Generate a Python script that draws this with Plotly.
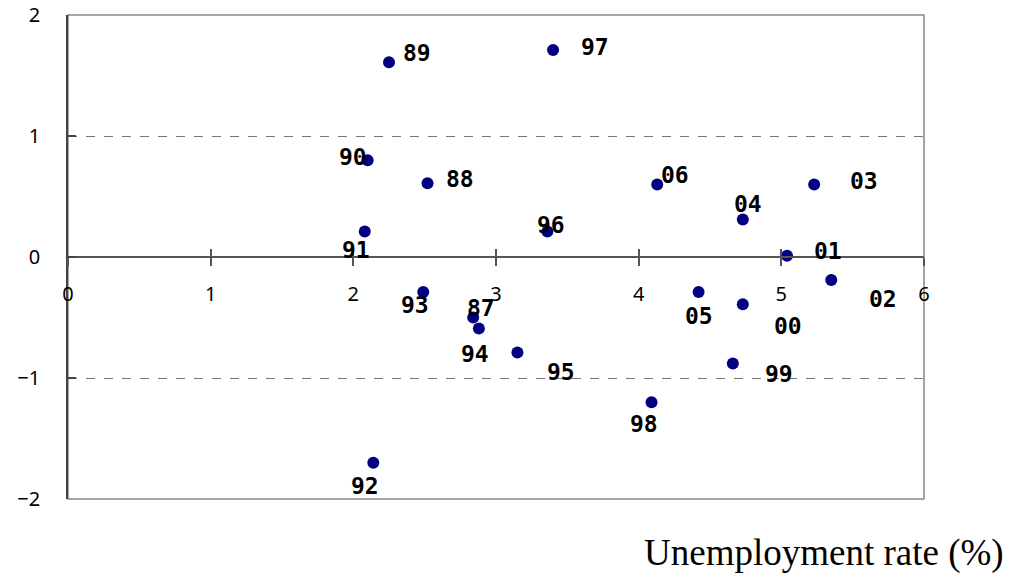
import plotly.graph_objects as go

# Data
years = ["87", "88", "89", "90", "91", "92", "93", "94", "95", "96", "97",
         "98", "99", "00", "01", "02", "03", "04", "05", "06"]
unemployment = [2.84, 2.52, 2.25, 2.10, 2.08, 2.14, 2.49, 2.88, 3.15, 3.36, 3.40,
                4.09, 4.66, 4.73, 5.04, 5.35, 5.23, 4.73, 4.42, 4.13]
y_values = [-0.50, 0.61, 1.61, 0.80, 0.21, -1.70, -0.29, -0.59, -0.79, 0.21, 1.71,
            -1.20, -0.88, -0.39, 0.01, -0.19, 0.60, 0.31, -0.29, 0.60]

# label offsets in pixels (dx right, dy down) — layout only
label_dx = [8, 32, 28, -15, -9, -8, -8, -4, 44, 4, 42, -8, 46, 45, 41, 52, 50, 5, 0, 18]
label_dy = [-10, -4, -9, -3, 18, 23, 13, 26, 19, -7, -3, 22, 11, 22, -5, 19, -3, -15, 24, -9]

fig = go.Figure()
fig.add_trace(go.Scatter(
    x=unemployment, y=y_values, mode="markers",
    marker=dict(color="#000080", size=12),
    hoverinfo="x+y", showlegend=False,
))
# invisible trace to activate overlay axis (for crossing ticks)
fig.add_trace(go.Scatter(
    x=unemployment, y=y_values, mode="markers", xaxis="x2",
    marker=dict(opacity=0), hoverinfo="skip", showlegend=False,
))

for yr, xv, yv, dx, dy in zip(years, unemployment, y_values, label_dx, label_dy):
    fig.add_annotation(
        x=xv, y=yv, xref="x", yref="y", text=yr, showarrow=False,
        xanchor="center", yanchor="middle", xshift=dx, yshift=-dy,
        font=dict(family="DejaVu Sans Mono", size=23, color="black", weight="bold"),
    )

fig.add_annotation(
    x=1.0958, y=-0.112, xref="paper", yref="paper", text="Unemployment rate (%)",
    showarrow=False, xanchor="right", yanchor="middle",
    font=dict(family="Liberation Serif", size=37, color="black"),
)

fig.add_shape(type="rect", xref="paper", yref="paper", x0=0, x1=1, y0=0, y1=1,
              line=dict(color="#888888", width=1.5), layer="below")

tickfont = dict(family="Noto Sans", size=20, color="black")

fig.update_layout(
    width=1007, height=569,
    margin=dict(l=60, r=91, t=7, b=78, autoexpand=False),
    plot_bgcolor="white", paper_bgcolor="white",
    xaxis=dict(range=[0, 6], dtick=1, anchor="free", position=0.5, automargin=False,
               showline=True, linecolor="#555555", linewidth=1.5,
               ticks="outside", ticklen=8, tickcolor="#555555", tickwidth=1.5,
               showgrid=False, zeroline=False, tickfont=tickfont,
               ticklabelstandoff=11),
    xaxis2=dict(range=[0, 6], dtick=1, anchor="free", position=0.5, overlaying="x",
                automargin=False,
                showline=False, ticks="inside", ticklen=8, tickcolor="#555555",
                tickwidth=1.5, showticklabels=False, showgrid=False, zeroline=False),
    yaxis=dict(range=[-2, 2], dtick=1, showline=True, linecolor="#444444", linewidth=1.5,
               automargin=False,
               ticks="inside", ticklen=8, tickcolor="#444444", tickwidth=1.5,
               showgrid=True, gridcolor="#777777", griddash="dash", gridwidth=1.2,
               zeroline=False, tickfont=tickfont, ticklabelstandoff=22,
               ticklabeloverflow="allow"),
)

fig.write_html("out.html")
